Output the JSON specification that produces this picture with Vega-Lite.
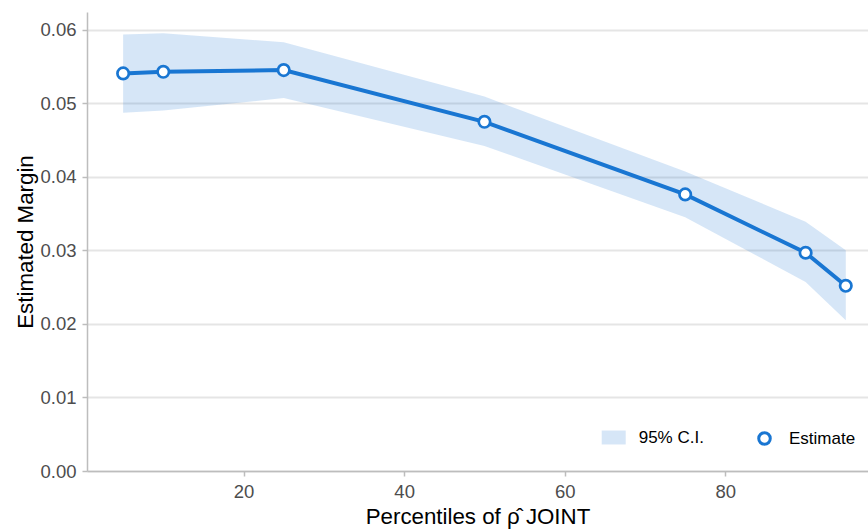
{
  "$schema": "https://vega.github.io/schema/vega-lite/v6.json",
  "autosize": "none",
  "padding": {"left": 87, "top": 12, "right": 0, "bottom": 59},
  "width": 781,
  "height": 459,
  "background": "white",
  "config": {
    "view": {"stroke": null},
    "font": "Liberation Sans",
    "axis": {
      "domainColor": "#bdbdbd",
      "domainWidth": 1.5,
      "tickColor": "#bdbdbd",
      "tickWidth": 1.5,
      "tickSize": 5,
      "labelColor": "#4d4d4d",
      "labelFont": "Liberation Sans",
      "labelFontSize": 18.5,
      "labelPadding": 6,
      "titleFont": "Liberation Sans",
      "titleFontSize": 22.3,
      "titleFontWeight": "normal",
      "titleColor": "#000000",
      "gridColor": "#e5e5e5",
      "gridWidth": 2
    },
    "legend": {
      "labelFont": "Liberation Sans",
      "labelFontSize": 17,
      "labelColor": "#000000"
    }
  },
  "data": {
    "values": [
      {"pct": 5, "est": 0.05405, "lo": 0.0487, "hi": 0.05935},
      {"pct": 10, "est": 0.05427, "lo": 0.0490, "hi": 0.0595},
      {"pct": 25, "est": 0.0545, "lo": 0.0507, "hi": 0.0583},
      {"pct": 50, "est": 0.04747, "lo": 0.0442, "hi": 0.0509},
      {"pct": 75, "est": 0.0376, "lo": 0.0345, "hi": 0.0407},
      {"pct": 90, "est": 0.02967, "lo": 0.0257, "hi": 0.0339},
      {"pct": 95, "est": 0.02518, "lo": 0.0205, "hi": 0.0300}
    ]
  },
  "encoding": {
    "x": {
      "field": "pct",
      "type": "quantitative",
      "scale": {"domain": [0.5, 97.77], "nice": false, "zero": false},
      "axis": {"values": [20, 40, 60, 80], "grid": false, "title": "Percentiles of ρ̂ JOINT", "titlePadding": 5}
    }
  },
  "layer": [
    {
      "mark": {"type": "area", "fillOpacity": 0.18},
      "encoding": {
        "y": {
          "field": "lo",
          "type": "quantitative",
          "scale": {"domain": [0, 0.0624], "nice": false},
          "axis": {"values": [0, 0.01, 0.02, 0.03, 0.04, 0.05, 0.06], "format": ".2f", "grid": true, "title": "Estimated Margin", "titlePadding": 2}
        },
        "y2": {"field": "hi"},
        "fill": {
          "datum": "95% C.I.",
          "type": "nominal",
          "scale": {"range": ["#1976d2"]},
          "legend": {
            "title": null,
            "orient": "none",
            "legendX": 514.7,
            "legendY": 413.5,
            "padding": 0,
            "symbolType": "M-1,-0.58H1V0.58H-1Z",
            "symbolSize": 576,
            "symbolOpacity": 0.18,
            "symbolStrokeWidth": 0,
            "labelOffset": 13
          }
        }
      }
    },
    {
      "mark": {"type": "line", "color": "#1976d2", "strokeWidth": 4},
      "encoding": {"y": {"field": "est", "type": "quantitative"}}
    },
    {
      "mark": {"type": "point", "filled": false, "fill": "white", "fillOpacity": 1, "opacity": 1, "size": 130, "strokeWidth": 2.7},
      "encoding": {
        "y": {"field": "est", "type": "quantitative"},
        "stroke": {
          "datum": "Estimate",
          "type": "nominal",
          "scale": {"range": ["#1976d2"]},
          "legend": {
            "title": null,
            "orient": "none",
            "legendX": 669,
            "legendY": 418,
            "padding": 0,
            "symbolType": "circle",
            "symbolSize": 133,
            "symbolStrokeWidth": 3,
            "symbolFillColor": "white",
            "labelOffset": 16
          }
        }
      }
    }
  ]
}
